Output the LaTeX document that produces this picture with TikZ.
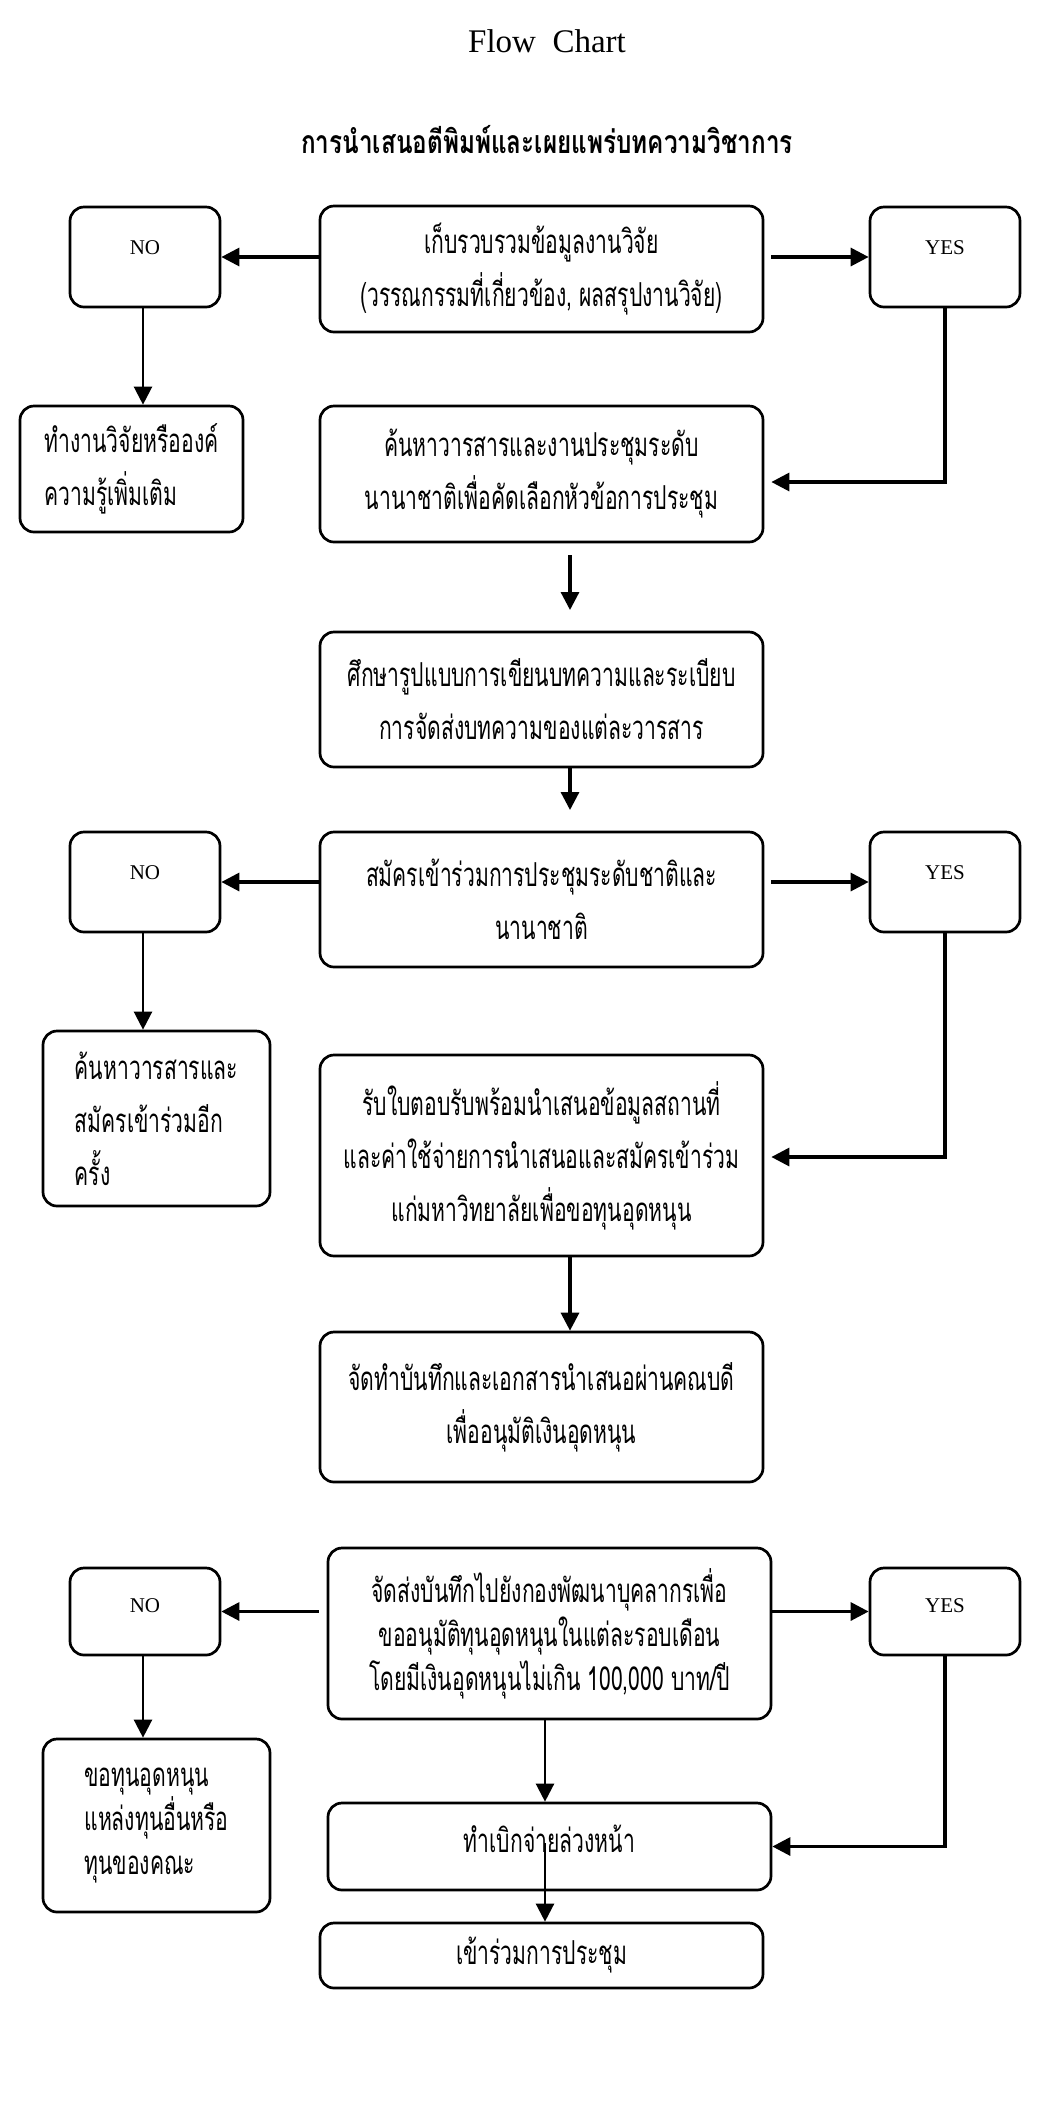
\documentclass[tikz,border=0pt]{standalone}
\usepackage{fontspec}
\setmainfont{Liberation Serif}
\newfontfamily\thai[Script=Thai,FakeStretch=0.64]{Loma}
\newfontfamily\thaititle[Script=Thai,FakeStretch=0.76]{Loma}
\usetikzlibrary{arrows.meta,calc}
\newcommand\thtext{\thai\fontsize{16.5}{26.5}\selectfont}
\newcommand\thtextb{\thai\fontsize{16.5}{22}\selectfont}
\begin{document}
\begin{tikzpicture}[x=0.5pt,y=-0.5pt,
  box/.style={draw, line width=1.35pt, rounded corners=7pt, inner sep=0pt, align=center, font=\thtext},
  lbox/.style={box, align=left},
  yn/.style={box, minimum width=75pt, minimum height=50pt, text depth=9pt, font=\fontsize{10.5}{12}\selectfont},
  arr/.style={line width=1.6pt, -{Triangle[length=9pt,width=9pt]}},
  tarr/.style={line width=1.2pt, -{Triangle[length=9pt,width=9pt]}}]
\path[use as bounding box] (0,0) rectangle (1044,2111);

\node (t1) at (547,41) {\fontsize{16.5}{20}\selectfont Flow\ \ Chart};
\node (t2) at (547,140) {\thaititle\bfseries\fontsize{16}{18}\selectfont การนำเสนอตีพิมพ์และเผยแพร่บทความวิชาการ};

% row 1
\node[box, minimum width=221.5pt, minimum height=63pt] (b1) at (541.5,269)
  {เก็บรวบรวมข้อมูลงานวิจัย\\(วรรณกรรมที่เกี่ยวข้อง, ผลสรุปงานวิจัย)};
\node[yn] (no1) at (145,257) {NO};
\node[yn] (yes1) at (945,257) {YES};
\node[lbox, minimum width=111.5pt, minimum height=63pt] (nr1) at (131.5,469)
  {ทำงานวิจัยหรือองค์\\ความรู้เพิ่มเติม};
\node[box, minimum width=221.5pt, minimum height=68pt] (b2) at (541.5,474)
  {ค้นหาวารสารและงานประชุมระดับ\\นานาชาติเพื่อคัดเลือกหัวข้อการประชุม};
\node[box, minimum width=221.5pt, minimum height=67.5pt] (b3) at (541.5,699.5)
  {ศึกษารูปแบบการเขียนบทความและระเบียบ\\การจัดส่งบทความของแต่ละวารสาร};

% row 2
\node[box, minimum width=221.5pt, minimum height=67.5pt] (b4) at (541.5,899.5)
  {สมัครเข้าร่วมการประชุมระดับชาติและ\\นานาชาติ};
\node[yn] (no2) at (145,882) {NO};
\node[yn] (yes2) at (945,882) {YES};
\node[lbox, minimum width=113.5pt, minimum height=87.5pt] (nr2) at (156.5,1118.5)
  {ค้นหาวารสารและ\\สมัครเข้าร่วมอีก\\ครั้ง};
\node[box, minimum width=221.5pt, minimum height=100.5pt] (b5) at (541.5,1155.5)
  {รับใบตอบรับพร้อมนำเสนอข้อมูลสถานที่\\และค่าใช้จ่ายการนำเสนอและสมัครเข้าร่วม\\แก่มหาวิทยาลัยเพื่อขอทุนอุดหนุน};
\node[box, minimum width=221.5pt, minimum height=75pt] (b6) at (541.5,1407)
  {จัดทำบันทึกและเอกสารนำเสนอผ่านคณบดี\\เพื่ออนุมัติเงินอุดหนุน};

% row 3
\node[box, minimum width=221.5pt, minimum height=85.5pt, font=\thtextb] (b7) at (549.5,1633.5)
  {จัดส่งบันทึกไปยังกองพัฒนาบุคลากรเพื่อ\\ขออนุมัติทุนอุดหนุนในแต่ละรอบเดือน\\โดยมีเงินอุดหนุนไม่เกิน 100,000 บาท/ปี};
\node[yn, minimum height=43.5pt, text depth=6pt] (no3) at (145,1611.5) {NO};
\node[yn, minimum height=43.5pt, text depth=6pt] (yes3) at (945,1611.5) {YES};
\node[lbox, minimum width=113.5pt, minimum height=86.5pt, font=\thtextb] (nr3) at (156.5,1825.5)
  {ขอทุนอุดหนุน\\แหล่งทุนอื่นหรือ\\ทุนของคณะ};
\node[box, minimum width=221.5pt, minimum height=43.5pt, text depth=8pt] (b8) at (549.5,1846.5)
  {ทำเบิกจ่ายล่วงหน้า};
\node[box, minimum width=221.5pt, minimum height=32.5pt] (b9) at (541.5,1955.5)
  {เข้าร่วมการประชุม};

% connectors
\draw[arr] (b1.west |- no1.east) -- (no1.east);
\draw[arr] ($(b1.east |- yes1.west)+(7,0)$) -- (yes1.west);
\draw[tarr] (no1.south -| 143,0) -- (nr1.north -| 143,0);
\draw[arr] (yes1.south) |- ($(b2.east)+(7,8)$);
\coordinate (c1a) at (570,555);
\coordinate (c1b) at (570,610);
\draw[arr] (c1a) -- (c1b);
\coordinate (c2) at (570,810);
\draw[arr] (b3.south -| c2) -- (c2);

\draw[arr] (b4.west |- no2.east) -- (no2.east);
\draw[arr] ($(b4.east |- yes2.west)+(7,0)$) -- (yes2.west);
\draw[tarr] (no2.south -| 143,0) -- (nr2.north -| 143,0);
\draw[arr] (yes2.south) |- ($(b5.east)+(7,1.5)$);
\draw[arr] (b5.south -| c2) -- (b6.north -| c2);

\draw[arr] ($(b7.west |- no3.east)+(-8,0)$) -- (no3.east);
\draw[arr] (b7.east |- yes3.west) -- (yes3.west);
\draw[tarr] (no3.south -| 143,0) -- (nr3.north -| 143,0);
\draw[arr] (yes3.south) |- (b8.east);
\coordinate (c3) at (545,1843);
\draw[tarr] (b7.south -| c3) -- (b8.north -| c3);
\draw[tarr] (c3) -- (b9.north -| c3);
\end{tikzpicture}
\end{document}
